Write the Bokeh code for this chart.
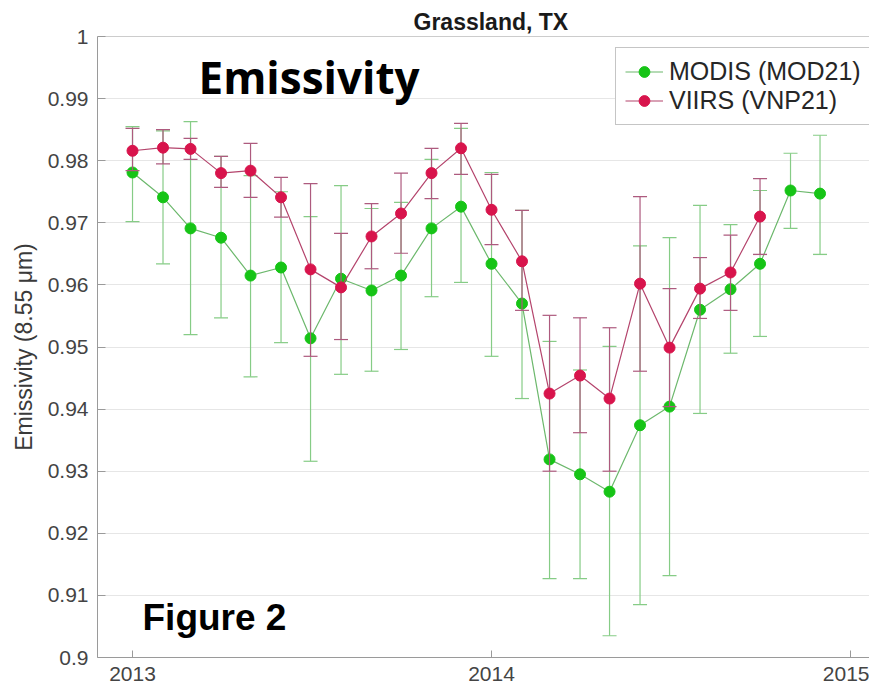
import pandas as pd
from bokeh.plotting import figure
from bokeh.models import (ColumnDataSource, Range1d, FixedTicker, CustomJSTickFormatter,
                          Legend, LegendItem, Label, Span)
from bokeh.embed import file_html
from bokeh.resources import INLINE

# ---------------- data ----------------
modis_months = ["2013-01", "2013-02", "2013-03", "2013-04", "2013-05", "2013-06",
                "2013-07", "2013-08", "2013-09", "2013-10", "2013-11", "2013-12",
                "2014-01", "2014-02", "2014-03", "2014-04", "2014-05", "2014-06",
                "2014-07", "2014-08", "2014-09", "2014-10", "2014-11", "2014-12"]
modis_mean = [0.9781, 0.9741, 0.9691, 0.9676, 0.9615, 0.9628, 0.9514, 0.9610,
              0.9591, 0.9615, 0.9691, 0.9726, 0.9634, 0.9570, 0.9319, 0.9295,
              0.9267, 0.9374, 0.9404, 0.9560, 0.9593, 0.9634, 0.9752, 0.9747]
modis_upper = [0.9855, 0.9848, 0.9863, 0.9807, 0.9776, 0.9750, 0.9710, 0.9760,
               0.9723, 0.9733, 0.9802, 0.9852, 0.9781, 0.9720, 0.9509, 0.9463,
               0.9501, 0.9663, 0.9676, 0.9728, 0.9697, 0.9752, 0.9812, 0.9841]
modis_lower = [0.9702, 0.9634, 0.9520, 0.9547, 0.9452, 0.9507, 0.9316, 0.9456,
               0.9461, 0.9496, 0.9581, 0.9604, 0.9485, 0.9417, 0.9127, 0.9127,
               0.9035, 0.9085, 0.9132, 0.9393, 0.9490, 0.9517, 0.9691, 0.9649]

viirs_months = ["2013-01", "2013-02", "2013-03", "2013-04", "2013-05", "2013-06",
                "2013-07", "2013-08", "2013-09", "2013-10", "2013-11", "2013-12",
                "2014-01", "2014-02", "2014-03", "2014-04", "2014-05", "2014-06",
                "2014-07", "2014-08", "2014-09", "2014-10"]
viirs_mean = [0.9816, 0.9821, 0.9819, 0.9780, 0.9784, 0.9741, 0.9625, 0.9596,
              0.9678, 0.9715, 0.9780, 0.9820, 0.9721, 0.9638, 0.9425, 0.9454,
              0.9417, 0.9602, 0.9499, 0.9594, 0.9620, 0.9710]
viirs_upper = [0.9852, 0.9850, 0.9836, 0.9807, 0.9828, 0.9773, 0.9763, 0.9683,
               0.9731, 0.9780, 0.9820, 0.9860, 0.9778, 0.9720, 0.9551, 0.9547,
               0.9531, 0.9742, 0.9594, 0.9644, 0.9680, 0.9771]
viirs_lower = [0.9784, 0.9795, 0.9802, 0.9757, 0.9741, 0.9709, 0.9485, 0.9512,
               0.9626, 0.9651, 0.9739, 0.9778, 0.9665, 0.9559, 0.9300, 0.9362,
               0.9300, 0.9461, 0.9404, 0.9546, 0.9559, 0.9649]

year_ticks = ["2013-01-01", "2014-01-01", "2015-01-01"]
y_ticks = [0.90, 0.91, 0.92, 0.93, 0.94, 0.95, 0.96, 0.97, 0.98, 0.99, 1.00]

# ---------------- styles ----------------
GREEN_PT = "#16c416"
GREEN_LN = "#6cb86c"
GREEN_EB = "#86cc86"
RED_PT = "#d8144c"
RED_LN = "#b4446c"
RED_EB = "#ad5a7e"
AX = "#9a9a9a"
TXT = "#3a3a3a"

x_start = pd.Timestamp("2013-01-01") - pd.Timedelta(days=35.6)
x_end = pd.Timestamp("2015-01-01") + pd.Timedelta(days=19.3)

p = figure(width=869, height=690, x_axis_type="datetime",
           x_range=Range1d(x_start, x_end), y_range=Range1d(0.9, 1.0),
           output_backend="svg", toolbar_location=None,
           min_border_left=97, min_border_right=0, min_border_top=36,
           min_border_bottom=33)
p.outline_line_color = None
p.background_fill_color = "white"
p.border_fill_color = "white"

# title
p.title.text = "Grassland, TX"
p.title.align = "left"
p.title.offset = 316
p.title.standoff = 4
p.title.text_font = "Liberation Sans"
p.title.text_font_size = "23px"
p.title.text_font_style = "bold"
p.title.text_color = "#1a1a1a"

# grid
p.xgrid.grid_line_color = None
p.ygrid.grid_line_color = "#e6e6e6"
p.ygrid.ticker = FixedTicker(ticks=y_ticks)

# y axis
ya = p.yaxis[0]
ya.ticker = FixedTicker(ticks=y_ticks)
ya.formatter = CustomJSTickFormatter(code="return Number(tick.toFixed(2)).toString();")
ya.axis_label = "Emissivity (8.55 μm)"
ya.axis_label_text_font = "Liberation Sans"
ya.axis_label_text_font_size = "23px"
ya.axis_label_text_font_style = "normal"
ya.axis_label_text_color = TXT
ya.axis_label_standoff = 8
ya.major_label_text_font = "Liberation Sans"
ya.major_label_text_font_size = "21px"
ya.major_label_text_color = "#444444"
ya.major_label_standoff = 9
ya.axis_line_color = AX
ya.major_tick_line_color = AX
ya.major_tick_in = 8
ya.major_tick_out = 0
ya.minor_tick_line_color = None

# x axis
year_ms = [pd.Timestamp(d).value / 1e6 for d in year_ticks]
xa = p.xaxis[0]
xa.ticker = FixedTicker(ticks=year_ms)
xa.formatter = CustomJSTickFormatter(code="return String(new Date(tick).getUTCFullYear());")
xa.major_label_text_font = "Liberation Sans"
xa.major_label_text_font_size = "21px"
xa.major_label_text_color = "#444444"
xa.major_label_standoff = 9
xa.axis_line_color = AX
xa.major_tick_line_color = AX
xa.major_tick_in = 7
xa.major_tick_out = 0
xa.minor_tick_line_color = None

# top box line
p.add_layout(Span(location=1.0, dimension="width", line_color=AX, line_width=1))

# ---------------- series ----------------
gsrc = ColumnDataSource(dict(x=pd.to_datetime(modis_months), y=modis_mean,
                             up=modis_upper, lo=modis_lower))
rsrc = ColumnDataSource(dict(x=pd.to_datetime(viirs_months), y=viirs_mean,
                             up=viirs_upper, lo=viirs_lower))

def series(src, pt, ln, eb):
    p.segment(x0="x", y0="lo", x1="x", y1="up", source=src, line_color=eb, line_width=1.2)
    p.scatter(x="x", y="up", source=src, marker="dash", size=14, line_color=eb, line_width=1.2)
    p.scatter(x="x", y="lo", source=src, marker="dash", size=14, line_color=eb, line_width=1.2)
    l = p.line(x="x", y="y", source=src, line_color=ln, line_width=1.2)
    s = p.scatter(x="x", y="y", source=src, marker="circle", size=11,
                  fill_color=pt, line_color=pt)
    return l, s

gl, gs = series(gsrc, GREEN_PT, GREEN_LN, GREEN_EB)
rl, rs = series(rsrc, RED_PT, RED_LN, RED_EB)

legend = Legend(items=[LegendItem(label="MODIS (MOD21)", renderers=[gl, gs]),
                       LegendItem(label="VIIRS (VNP21)", renderers=[rl, rs])],
                location=(518, 532))
legend.label_text_font = "Liberation Sans"
legend.label_text_font_size = "25px"
legend.label_text_color = "#262626"
legend.glyph_width = 38
legend.glyph_height = 27
legend.label_height = 27
legend.label_standoff = 6
legend.padding = 9
legend.spacing = 0
legend.margin = 0
legend.border_line_color = "#8c8c8c"
legend.border_line_width = 1
legend.background_fill_color = "white"
legend.background_fill_alpha = 1
p.add_layout(legend)

# annotations
p.add_layout(Label(x=101, y=581, x_units="screen", y_units="screen",
                   text="Emissivity", text_align="left", text_baseline="alphabetic",
                   text_font="Open Sans", text_font_size="44px",
                   text_font_style="bold", text_color="black"))
p.add_layout(Label(x=45, y=40, x_units="screen", y_units="screen",
                   text="Figure 2", text_align="left", text_baseline="alphabetic",
                   text_font="Liberation Sans", text_font_size="37px",
                   text_font_style="bold", text_color="black"))

open("out.html", "w").write(file_html(p, INLINE))
